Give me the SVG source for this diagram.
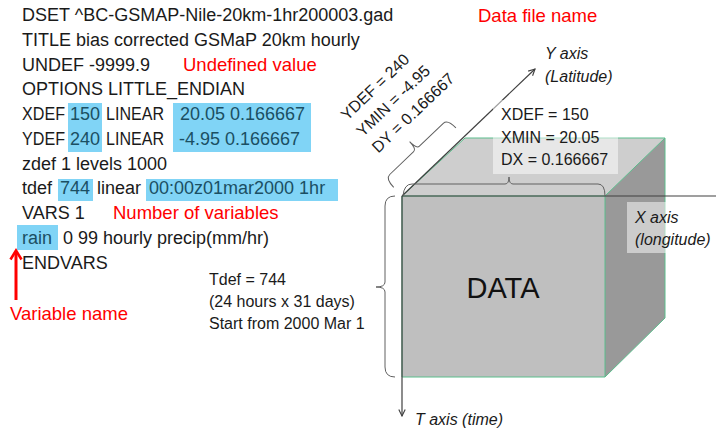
<svg xmlns="http://www.w3.org/2000/svg" width="716" height="430" viewBox="0 0 716 430">
<defs>
<style>
.t{font-family:"Liberation Sans",Arial,sans-serif;font-size:18px;fill:#1a1a1a}
.h{fill:#1b4f63}
.r{font-family:"Liberation Sans",Arial,sans-serif;font-size:18.5px;fill:#ff0000}
.s{font-family:"Liberation Sans",Arial,sans-serif;font-size:16px;fill:#1a1a1a}
.i{font-style:italic}
.hl{fill:#80d4f6}
.edge{stroke:#5bbd8c;stroke-width:1;fill:none}
.ax{stroke:#404040;stroke-width:1.2;fill:none}
.br{stroke:#606060;stroke-width:1;fill:none}
.lb{fill:#ffffff;fill-opacity:0.5}
</style>
<marker id="arr" viewBox="0 0 10 10" refX="9" refY="5" markerWidth="8" markerHeight="8" markerUnits="userSpaceOnUse" orient="auto">
<path d="M1,1 L9,5 L1,9" fill="none" stroke="#404040" stroke-width="1.4"/>
</marker>
</defs>
<rect width="716" height="430" fill="#ffffff"/>

<g id="ctl-file">
<rect class="hl" x="68" y="103" width="34" height="49"/>
<rect class="hl" x="173" y="103" width="138" height="49"/>
<rect class="hl" x="58" y="179" width="35" height="22"/>
<rect class="hl" x="146" y="179" width="192" height="22"/>
<rect class="hl" x="17" y="225" width="41" height="25"/>
<text class="t" x="22" y="20.7">DSET ^BC-GSMAP-Nile-20km-1hr200003.gad</text>
<text class="t" x="22" y="45.5">TITLE bias corrected GSMaP 20km hourly</text>
<text class="t" x="22" y="70.5">UNDEF -9999.9</text>
<text class="t" x="22" y="95">OPTIONS LITTLE_ENDIAN</text>
<text class="t" x="22" y="120" textLength="43" lengthAdjust="spacingAndGlyphs">XDEF</text>
<text class="t h" x="70" y="120">150</text>
<text class="t" x="106" y="120" textLength="58" lengthAdjust="spacingAndGlyphs">LINEAR</text>
<text class="t h" x="180" y="120">20.05 0.166667</text>
<text class="t" x="22" y="145" textLength="43" lengthAdjust="spacingAndGlyphs">YDEF</text>
<text class="t h" x="70" y="145">240</text>
<text class="t" x="106" y="145" textLength="58" lengthAdjust="spacingAndGlyphs">LINEAR</text>
<text class="t h" x="179" y="145">-4.95 0.166667</text>
<text class="t" x="22" y="169.6">zdef 1 levels 1000</text>
<text class="t" x="22" y="194.4">tdef</text>
<text class="t h" x="60" y="194.4">744</text>
<text class="t" x="97" y="194.4">linear</text>
<text class="t h" x="149" y="194.4">00:00z01mar2000 1hr</text>
<text class="t" x="22" y="219.2">VARS 1</text>
<text class="t h" x="22" y="244">rain</text>
<text class="t" x="63" y="244">0 99 hourly precip(mm/hr)</text>
<text class="t" x="22" y="268.8">ENDVARS</text>
</g>

<g id="annot-undef"><text class="r" x="183" y="70.5">Undefined value</text></g>
<g id="annot-nvars"><text class="r" x="113" y="219.2">Number of variables</text></g>
<g id="annot-datafile"><text class="r" x="478" y="22">Data file name</text></g>
<g id="annot-varname">
<path d="M16,300 L16,252" stroke="#ff0000" stroke-width="3" fill="none"/>
<path d="M10.5,259.5 L16,250.5 L21.5,259.5" stroke="#ff0000" stroke-width="2.6" fill="none" stroke-linejoin="miter"/>
<text class="r" x="10" y="320">Variable name</text>
</g>

<g id="cube">
<polygon points="402,196 465,138 665,138 605,196" fill="#cecece"/>
<polygon points="605,196 665,138 665,318 605,377" fill="#999999"/>
<rect x="402" y="196" width="203" height="181" fill="#bfbfbf"/>
<path class="edge" d="M402,196 L465,138 L665,138 L605,196 Z M665,138 L665,318 L605,377 M402,196 L402,377 L605,377 L605,196"/>
<text x="503" y="298" text-anchor="middle" font-family="Liberation Sans,Arial,sans-serif" font-size="29" fill="#111111">DATA</text>
</g>

<g id="connectors">
<line class="ax" x1="402" y1="196" x2="535" y2="69" marker-end="url(#arr)"/>
<line class="ax" x1="402" y1="196" x2="716" y2="196"/>
<line class="ax" x1="402" y1="196" x2="402" y2="416" marker-end="url(#arr)"/>
<path class="br" d="M403,196 Q404,184 412,184 L505,184 Q509,184 509,177 Q509,184 513,184 L598,184 Q605,184 605,196"/>
<path class="br" d="M395,196 Q385,196 385,206 L385,282 Q385,287 376,287 Q385,287 385,292 L385,367 Q385,377 395,377"/>
<path class="br" transform="translate(402,196) rotate(-43.68)" d="M0,-12 Q0,-24 6,-24 L39,-24 Q43,-24 43,-34 Q43,-24 47,-24 L80,-24 Q86,-24 86,-12"/>
</g>

<g id="label-x-def">
<rect class="lb" x="493" y="100" width="125" height="74"/>
<text class="s" x="501" y="120">XDEF = 150</text>
<text class="s" x="501" y="142.5">XMIN = 20.05</text>
<text class="s" x="501" y="165">DX = 0.166667</text>
</g>
<g id="label-y-def" transform="translate(402,196) rotate(-43.68)">
<text class="s" x="12" y="-92">YDEF = 240</text>
<text class="s" x="12" y="-69.5">YMIN = -4.95</text>
<text class="s" x="12" y="-47">DY = 0.166667</text>
</g>
<g id="label-t-def">
<text class="s" x="209" y="285">Tdef = 744</text>
<text class="s" x="209" y="307">(24 hours x 31 days)</text>
<text class="s" x="209" y="329">Start from 2000 Mar 1</text>
</g>
<g id="label-y-axis">
<text class="s i" x="545" y="59">Y axis</text>
<text class="s i" x="545" y="82">(Latitude)</text>
</g>
<g id="label-x-axis">
<rect class="lb" x="627" y="202" width="95" height="51"/>
<text class="s i" x="635" y="223">X axis</text>
<text class="s i" x="635" y="245">(longitude)</text>
</g>
<g id="label-t-axis">
<text class="s i" x="415" y="425">T axis (time)</text>
</g>
</svg>
